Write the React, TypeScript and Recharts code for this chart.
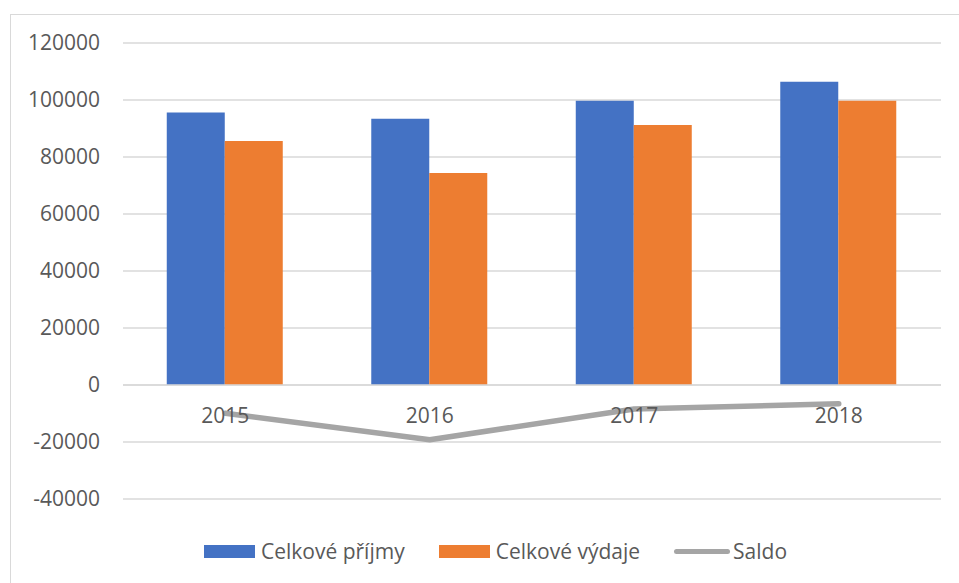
import { ComposedChart, Bar, Line, XAxis, YAxis, CartesianGrid, Legend, ReferenceLine } from 'recharts';

const years = ['2015', '2016', '2017', '2018'];
const prijmy = [95600, 93400, 99700, 106400];
const vydaje = [85600, 74400, 91200, 99700];
const saldo = [-9900, -19200, -8400, -6600];
const yTicks = [-40000, -20000, 0, 20000, 40000, 60000, 80000, 100000, 120000];

const data = years.map((year, i) => ({
  year,
  prijmy: prijmy[i],
  vydaje: vydaje[i],
  saldo: saldo[i],
}));

const FONT = '"Open Sans", sans-serif';
const TEXT = '#595959';

// chart geometry
const TOP = 43;
const BOTTOM = 499;
const ZERO_Y = TOP + ((120000 - 0) / 160000) * (BOTTOM - TOP);

function YearTick(props: any) {
  const { x, payload } = props;
  return (
    <text x={x} y={ZERO_Y + 38} textAnchor="middle" fill={TEXT} fontSize={21} fontFamily={FONT}>
      {payload.value}
    </text>
  );
}

function LegendBox() {
  const items = [
    { label: 'Celkové příjmy', color: '#4472C4', kind: 'rect' },
    { label: 'Celkové výdaje', color: '#ED7D31', kind: 'rect' },
    { label: 'Saldo', color: '#A5A5A5', kind: 'line' },
  ];
  return (
    <div style={{ display: 'flex', justifyContent: 'center', alignItems: 'center', height: 30, fontFamily: FONT, fontSize: 21, color: TEXT }}>
      {items.map((it, i) => (
        <div key={it.label} style={{ display: 'flex', alignItems: 'center', marginLeft: i === 0 ? 0 : 34 }}>
          {it.kind === 'rect' ? (
            <div style={{ width: 51, height: 13, background: it.color, marginRight: 6 }} />
          ) : (
            <div style={{ width: 56, height: 5, background: it.color, borderRadius: 3, marginRight: 3 }} />
          )}
          <span>{it.label}</span>
        </div>
      ))}
    </div>
  );
}

export default function App() {
  return (
    <div style={{ position: 'absolute', left: 0, top: 0, width: 959, height: 583, overflow: 'hidden', background: '#fff' }}>
      <div style={{ position: 'absolute', left: 10, top: 14, width: 980, height: 620, border: '1px solid #d9d9d9' }} />
      <ComposedChart
        width={959}
        height={583}
        data={data}
        margin={{ top: TOP, right: 18, left: 0, bottom: 24 }}
        barCategoryGap="21.4%"
        barGap={0}
        style={{ position: 'absolute', left: 0, top: 0 }}
      >
        <CartesianGrid vertical={false} stroke="#d9d9d9" strokeWidth={1.5} />
        <XAxis dataKey="year" height={30} axisLine={false} tickLine={false} tick={<YearTick />} interval={0} />
        <YAxis
          width={123}
          domain={[-40000, 120000]}
          ticks={yTicks}
          axisLine={false}
          tickLine={false}
          tickSize={0}
          tickMargin={23}
          tick={{ fill: TEXT, fontSize: 21, fontFamily: FONT }}
        />
        <ReferenceLine y={0} stroke="#d9d9d9" strokeWidth={1.5} />
        <Bar dataKey="prijmy" name="Celkové příjmy" fill="#4472C4" isAnimationActive={false} />
        <Bar dataKey="vydaje" name="Celkové výdaje" fill="#ED7D31" isAnimationActive={false} />
        <Line
          dataKey="saldo"
          name="Saldo"
          stroke="#A5A5A5"
          strokeWidth={5.5}
          strokeLinecap="round"
          strokeLinejoin="round"
          dot={false}
          activeDot={false}
          isAnimationActive={false}
        />
        <Legend verticalAlign="bottom" content={<LegendBox />} wrapperStyle={{ bottom: 17, height: 30, left: 25, width: 941 }} />
      </ComposedChart>
    </div>
  );
}
